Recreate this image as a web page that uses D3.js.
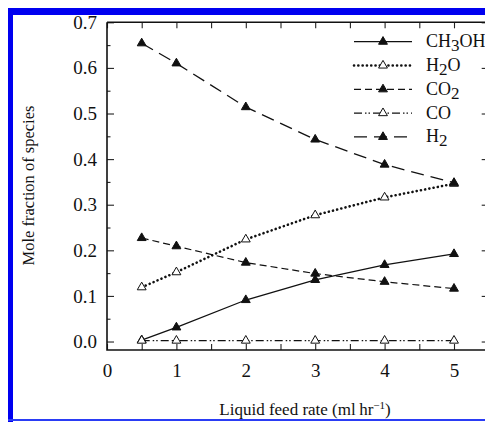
<!DOCTYPE html>
<html>
<head>
<meta charset="utf-8">
<script src="https://cdn.jsdelivr.net/npm/d3@7"></script>
<style>
  html, body { margin: 0; padding: 0; background: #fff; }
  svg { display: block; }
  text { font-family: "Liberation Serif", "Times New Roman", serif; fill: #111; }
</style>
</head>
<body>
<svg id="chart" width="485" height="423"></svg>
<script>
// ---- data ----
const feedRate = [0.5, 1, 2, 3, 4, 5];
const ch3oh = [0.003, 0.031, 0.091, 0.135, 0.168, 0.192];
const h2o   = [0.119, 0.152, 0.224, 0.277, 0.316, 0.346];
const co2   = [0.227, 0.209, 0.173, 0.149, 0.131, 0.116];
const co    = [0.002, 0.002, 0.002, 0.002, 0.002, 0.002];
const h2    = [0.654, 0.610, 0.514, 0.443, 0.388, 0.348];
const seriesNames = ["CH3OH", "H2O", "CO2", "CO", "H2"];
const xTickValues = [0, 0.5, 1, 1.5, 2, 2.5, 3, 3.5, 4, 4.5, 5, 5.5];
const yTickValues = [0.0, 0.1, 0.2, 0.3, 0.4, 0.5, 0.6, 0.7];
const yMinorTicks = [0.05, 0.15, 0.25, 0.35, 0.45, 0.55, 0.65];

const series = [
  { name: "CH3OH", parts: [["CH",0],["3",1],["OH",0]], values: ch3oh, dash: null, width: 1.3, filled: true },
  { name: "H2O",   parts: [["H",0],["2",1],["O",0]],   values: h2o,   dash: "0.1,4.2", width: 2.6, cap: "round", filled: false },
  { name: "CO2",   parts: [["CO",0],["2",1]],          values: co2,   dash: "7,4", width: 1.2, filled: true },
  { name: "CO",    parts: [["CO",0]],                  values: co,    dash: "8,3,1.5,2,1.5,3", width: 1.1, filled: false },
  { name: "H2",    parts: [["H",0],["2",1]],           values: h2,    dash: "13,7", width: 1.3, filled: true }
];

const svg = d3.select("#chart");

// ---- blue frame ----
const blue = "#0000f0";
svg.append("rect").attr("x", 8).attr("y", 8).attr("width", 477).attr("height", 7).attr("fill", blue);
svg.append("rect").attr("x", 8).attr("y", 8).attr("width", 5).attr("height", 414).attr("fill", blue);
svg.append("rect").attr("x", 8).attr("y", 419).attr("width", 477).attr("height", 2).attr("fill", "#2a3cf5");

// ---- scales ----
const L = 107, R = 488.7, T = 22.3, B = 350;
const x = d3.scaleLinear().domain([0, 5.5]).range([L, R]);
const y = d3.scaleLinear().domain([-0.0186, 0.7]).range([B, T]);

// ---- axes ----
const axisG = svg.append("g");
function styleAxis(g) {
  g.select(".domain").remove();
  g.selectAll(".tick line").attr("stroke", "#222").attr("stroke-width", 1.1);
  g.selectAll("text").style("font-family", "Liberation Serif, serif").style("font-size", "19px").attr("fill", "#111");
}
axisG.append("g").attr("transform", `translate(${L},0)`)
  .call(d3.axisLeft(y).tickValues(yTickValues).tickSize(-7).tickPadding(10).tickFormat(d3.format(".1f")))
  .call(styleAxis);
axisG.append("g").attr("transform", `translate(${L},0)`)
  .call(d3.axisLeft(y).tickValues(yMinorTicks).tickSize(-3.5).tickFormat(""))
  .call(styleAxis);
axisG.append("g").attr("transform", `translate(${R},0)`)
  .call(d3.axisRight(y).tickValues(yTickValues).tickSize(-7).tickFormat(""))
  .call(styleAxis);
axisG.append("g").attr("transform", `translate(${R},0)`)
  .call(d3.axisRight(y).tickValues(yMinorTicks).tickSize(-3.5).tickFormat(""))
  .call(styleAxis);
axisG.append("g").attr("transform", `translate(0,${B})`)
  .call(d3.axisBottom(x).tickValues(xTickValues).tickSize(-6).tickPadding(14)
    .tickFormat(d => (Number.isInteger(d) && d <= 5) ? d3.format("d")(d) : ""))
  .call(styleAxis);
axisG.append("g").attr("transform", `translate(0,${T})`)
  .call(d3.axisTop(x).tickValues(xTickValues).tickSize(-6).tickFormat(""))
  .call(styleAxis);

// frame
svg.append("path")
  .attr("d", `M${L},${T}H${R}M${L},${T}V${B}H${R}`)
  .attr("fill", "none").attr("stroke", "#111").attr("stroke-width", 1.6);

// ---- lines & markers ----
const line = d3.line().x((d, i) => x(feedRate[i])).y(d => y(d));
const tri = d3.symbol().type(d3.symbolTriangle).size(34);

series.forEach(s => {
  svg.append("path").datum(s.values)
    .attr("d", line)
    .attr("fill", "none").attr("stroke", "#111")
    .attr("stroke-width", s.width)
    .attr("stroke-linecap", s.cap || "butt")
    .attr("stroke-dasharray", s.dash);
  svg.append("g").selectAll("path").data(s.values).join("path")
    .attr("d", tri)
    .attr("transform", (d, i) => `translate(${x(feedRate[i])},${y(d)})`)
    .attr("fill", s.filled ? "#111" : "#fff")
    .attr("stroke", "#111").attr("stroke-width", 1);
});

// ---- legend ----
const legend = svg.append("g");
const rowY0 = 41.7, rowStep = 23.8;
series.forEach((s, i) => {
  const ry = rowY0 + i * rowStep;
  legend.append("line")
    .attr("x1", 354).attr("x2", 412).attr("y1", ry).attr("y2", ry)
    .attr("stroke", "#111").attr("stroke-width", s.width)
    .attr("stroke-linecap", s.cap || "butt")
    .attr("stroke-dasharray", s.dash);
  legend.append("path").attr("d", tri)
    .attr("transform", `translate(383,${ry})`)
    .attr("fill", s.filled ? "#111" : "#fff")
    .attr("stroke", "#111").attr("stroke-width", 1);
  const t = legend.append("text").attr("x", 426).attr("y", ry + 5.5)
    .style("font-size", "18px");
  s.parts.forEach(p => {
    t.append("tspan").text(p[0])
      .attr("dy", p[1] ? 4 : (t.selectAll("tspan").size() > 1 ? -4 : 0))
      .style("font-size", p[1] ? "17px" : "18px");
  });
});

// ---- axis titles ----
svg.append("text")
  .attr("x", 305).attr("y", 415)
  .attr("text-anchor", "middle")
  .style("font-size", "17px")
  .call(t => {
    t.append("tspan").text("Liquid feed rate (ml\u2009hr");
    t.append("tspan").text("\u22121").attr("dy", -6).style("font-size", "11px");
    t.append("tspan").text(")").attr("dy", 6);
  });

svg.append("text")
  .attr("transform", "translate(33.5,185.5) rotate(-90)")
  .attr("text-anchor", "middle")
  .style("font-size", "16.5px")
  .text("Mole fraction of species");
</script>
</body>
</html>
